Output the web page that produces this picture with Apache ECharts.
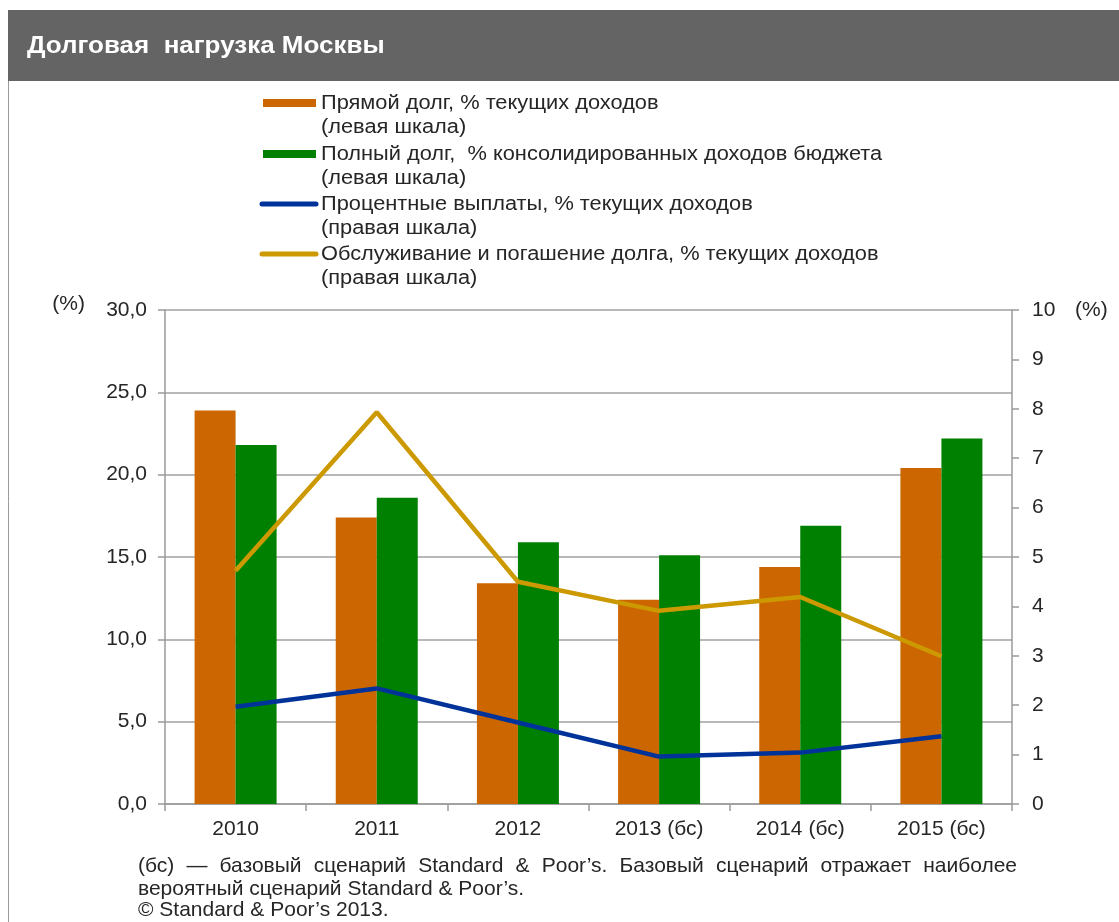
<!DOCTYPE html>
<html>
<head>
<meta charset="utf-8">
<script src="https://cdn.jsdelivr.net/npm/echarts@6/dist/echarts.min.js"></script>
<style>
html,body{margin:0;padding:0;background:#fff;}
#chart{width:1119px;height:922px;}
</style>
</head>
<body>
<div id="chart"></div>
<script>
const titleText = 'Долговая  нагрузка Москвы';
const categories = ['2010', '2011', '2012', '2013 (бс)', '2014 (бс)', '2015 (бс)'];
const directDebt = [23.9, 17.4, 13.4, 12.4, 14.4, 20.4];
const totalDebt = [21.8, 18.6, 15.9, 15.1, 16.9, 22.2];
const interestPayments = [1.97, 2.34, 1.65, 0.96, 1.04, 1.37];
const debtService = [4.72, 7.93, 4.50, 3.91, 4.19, 2.99];
const seriesNames = [
  'Прямой долг, % текущих доходов',
  'Полный долг,  % консолидированных доходов бюджета',
  'Процентные выплаты, % текущих доходов',
  'Обслуживание и погашение долга, % текущих доходов'
];
const scaleNotes = ['(левая шкала)', '(левая шкала)', '(правая шкала)', '(правая шкала)'];
const footLine1 = '(бс) — базовый сценарий Standard & Poor’s. Базовый сценарий отражает наиболее';
const footLine2 = 'вероятный сценарий Standard & Poor’s.';
const footLine3 = '© Standard & Poor’s 2013.';
const leftTicks = {min: 0, max: 30, interval: 5};
const rightTicks = {min: 0, max: 10, interval: 1};

const colors = ['#CC6600', '#008000', '#003399', '#CC9900'];
const FONT = '"Liberation Sans", Arial, sans-serif';
const TXT = '#262626';

const chart = echarts.init(document.getElementById('chart'), null, {renderer: 'canvas'});

// legend graphics
const legendGraphics = [];
const rowY = [103, 154, 204, 254];
seriesNames.forEach((name, i) => {
  const y = rowY[i];
  if (i < 2) {
    legendGraphics.push({type: 'rect', shape: {x: 263, y: y - 4, width: 53, height: 8}, style: {fill: colors[i]}});
  } else {
    legendGraphics.push({type: 'line', shape: {x1: 262, y1: y, x2: 316, y2: y}, style: {stroke: colors[i], lineWidth: 5, lineCap: 'round'}});
  }
  legendGraphics.push({type: 'text', x: 321, y: y, scaleX: 1.09, style: {text: name, font: '20px ' + FONT, fill: TXT, verticalAlign: 'middle'}});
  legendGraphics.push({type: 'text', x: 321, y: y + 24, scaleX: 1.09, style: {text: scaleNotes[i], font: '20px ' + FONT, fill: TXT, verticalAlign: 'middle'}});
});

// justified footnote first line
const cv = document.createElement('canvas').getContext('2d');
const footFont = '21px ' + FONT;
cv.font = footFont;
const words = footLine1.split(' ');
const widths = words.map(w => cv.measureText(w).width);
const totalW = widths.reduce((a, b) => a + b, 0);
const x0 = 138, x1 = 1017;
const gap = (x1 - x0 - totalW) / (words.length - 1);
const footGraphics = [];
let cx = x0;
words.forEach((w, i) => {
  footGraphics.push({type: 'text', x: cx, y: 866, style: {text: w, font: footFont, fill: TXT, verticalAlign: 'middle'}});
  cx += widths[i] + gap;
});
footGraphics.push({type: 'text', x: x0, y: 889, style: {text: footLine2, font: footFont, fill: TXT, verticalAlign: 'middle'}});
footGraphics.push({type: 'text', x: x0, y: 910, style: {text: footLine3, font: footFont, fill: TXT, verticalAlign: 'middle'}});

const axisFont = {color: TXT, fontSize: 21, fontFamily: FONT};

const option = {
  backgroundColor: '#ffffff',
  animation: false,
  grid: {left: 165, right: 107, top: 310, bottom: 118, containLabel: false},
  graphic: [
    {type: 'rect', shape: {x: 8, y: 10, width: 1111, height: 71}, style: {fill: '#646464'}},
    {type: 'line', shape: {x1: 8.5, y1: 81, x2: 8.5, y2: 922}, style: {stroke: '#9a9a9a', lineWidth: 1}},
    {type: 'text', x: 27, y: 47, scaleX: 1.13, style: {text: titleText, font: 'bold 23px ' + FONT, fill: '#ffffff', verticalAlign: 'middle'}},
    ...legendGraphics,
    ...footGraphics
  ],
  xAxis: {
    type: 'category',
    data: categories,
    axisLine: {lineStyle: {color: '#9a9a9a', width: 1.5}},
    axisTick: {show: true, length: 7, lineStyle: {color: '#9a9a9a', width: 1.5}},
    axisLabel: Object.assign({margin: 15}, axisFont)
  },
  yAxis: [
    {
      type: 'value', min: leftTicks.min, max: leftTicks.max, interval: leftTicks.interval,
      name: '(%)', nameLocation: 'end', nameGap: 6,
      nameTextStyle: Object.assign({align: 'right', verticalAlign: 'middle', padding: [0, 80, 0, 0]}, axisFont),
      axisLine: {show: true, lineStyle: {color: '#9a9a9a', width: 1.5}},
      axisTick: {show: true, length: 7, lineStyle: {color: '#9a9a9a', width: 1.5}},
      splitLine: {show: true, lineStyle: {color: '#a0a0a0', width: 1.5}},
      axisLabel: Object.assign({margin: 18, formatter: v => v.toFixed(1).replace('.', ',')}, axisFont)
    },
    {
      type: 'value', min: rightTicks.min, max: rightTicks.max, interval: rightTicks.interval,
      name: '(%)', nameLocation: 'end', nameGap: 0,
      nameTextStyle: Object.assign({align: 'left', verticalAlign: 'middle', padding: [0, 0, 0, 63]}, axisFont),
      axisLine: {show: true, lineStyle: {color: '#9a9a9a', width: 1.5}},
      axisTick: {show: true, length: 7, lineStyle: {color: '#9a9a9a', width: 1.5}},
      splitLine: {show: false},
      axisLabel: Object.assign({margin: 20}, axisFont)
    }
  ],
  series: [
    {name: seriesNames[0], type: 'bar', data: directDebt, yAxisIndex: 0, barWidth: 41, barGap: '0%', itemStyle: {color: colors[0]}, z: 2},
    {name: seriesNames[1], type: 'bar', data: totalDebt, yAxisIndex: 0, barWidth: 41, barGap: '0%', itemStyle: {color: colors[1]}, z: 2},
    {name: seriesNames[2], type: 'line', data: interestPayments, yAxisIndex: 1, showSymbol: false, symbol: 'none', lineStyle: {color: colors[2], width: 4.5}, itemStyle: {color: colors[2]}, z: 3},
    {name: seriesNames[3], type: 'line', data: debtService, yAxisIndex: 1, showSymbol: false, symbol: 'none', lineStyle: {color: colors[3], width: 4.5}, itemStyle: {color: colors[3]}, z: 3}
  ]
};
chart.setOption(option);
</script>
</body>
</html>
